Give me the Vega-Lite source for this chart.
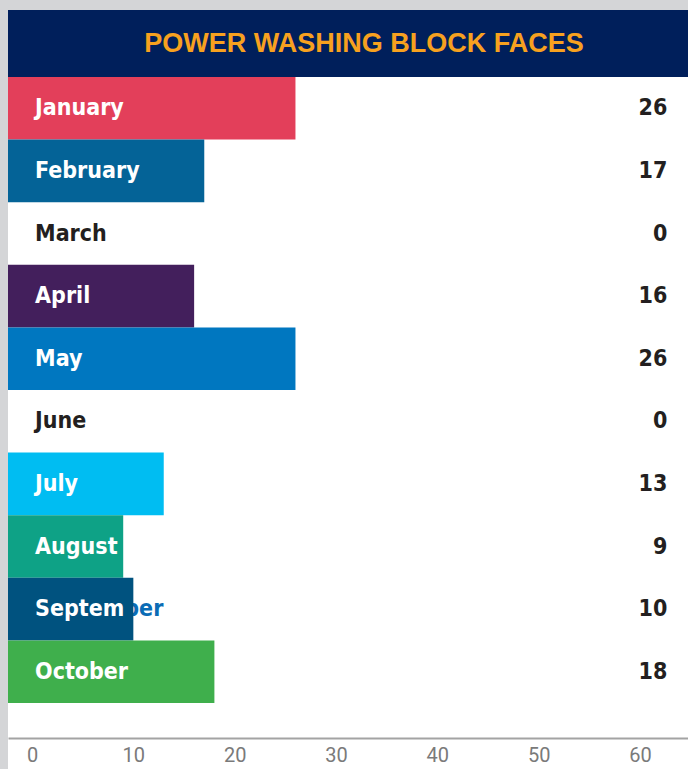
{
  "$schema": "https://vega.github.io/schema/vega-lite/v6.json",
  "background": "#d4d5d7",
  "padding": {"left": 8, "top": 10, "right": 0, "bottom": 0},
  "config": {"view": {"stroke": null}},
  "spacing": 0,
  "resolve": {"scale": {"x": "independent", "y": "independent", "color": "independent"}},
  "vconcat": [
    {
      "name": "head",
      "width": 680,
      "height": 67,
      "view": {"fill": "#001f5b", "stroke": null},
      "data": {"values": [{"title": "POWER WASHING BLOCK FACES"}]},
      "mark": {
        "type": "text",
        "font": "Liberation Sans, Arial, sans-serif",
        "fontWeight": "bold",
        "fontSize": 27,
        "color": "#f7a11f",
        "baseline": "alphabetic",
        "dx": 16,
        "dy": 8
      },
      "encoding": {"text": {"field": "title"}}
    },
    {
      "name": "bars",
      "width": 680,
      "height": 692,
      "view": {"fill": "#ffffff", "stroke": null},
      "data": {
        "values": [
          {"month": "January", "value": 26},
          {"month": "February", "value": 17},
          {"month": "March", "value": 0},
          {"month": "April", "value": 16},
          {"month": "May", "value": 26},
          {"month": "June", "value": 0},
          {"month": "July", "value": 13},
          {"month": "August", "value": 9},
          {"month": "September", "value": 10},
          {"month": "October", "value": 18}
        ]
      },
      "encoding": {
        "y": {
          "field": "month",
          "type": "nominal",
          "scale": {
            "domain": ["January", "February", "March", "April", "May", "June", "July", "August", "September", "October"],
            "paddingInner": 0,
            "paddingOuter": 0,
            "range": [0, 626]
          },
          "axis": null
        }
      },
      "layer": [
        {
          "transform": [{"filter": "datum.month == 'September'"}],
          "mark": {
            "type": "text",
            "font": "DejaVu Sans Condensed, sans-serif",
            "fontWeight": "bold",
            "fontSize": 23,
            "align": "left",
            "baseline": "alphabetic",
            "dy": 7,
            "color": "#0b6cb5"
          },
          "encoding": {
            "x": {"datum": 0.3},
            "text": {"field": "month"}
          }
        },
        {
          "transform": [{"filter": "datum.value > 0"}],
          "mark": {"type": "bar"},
          "encoding": {
            "x": {
              "field": "value",
              "type": "quantitative",
              "scale": {"domain": [-2.37, 64.74], "nice": false, "zero": false},
              "axis": {
                "values": [0, 10, 20, 30, 40, 50, 60],
                "orient": "bottom",
                "offset": -31,
                "title": null,
                "grid": false,
                "ticks": false,
                "domain": true,
                "domainColor": "#a3a3a3",
                "domainWidth": 2,
                "labelFont": "Roboto",
                "labelFontSize": 20,
                "labelColor": "#7a7a7a",
                "labelPadding": 7
              }
            },
            "x2": {"datum": -2.37},
            "color": {
              "field": "month",
              "type": "nominal",
              "scale": {
                "domain": ["January", "February", "March", "April", "May", "June", "July", "August", "September", "October"],
                "range": ["#e33f5a", "#046397", "#ffffff", "#431f5c", "#0077c0", "#ffffff", "#00bdf2", "#0ea286", "#00527f", "#3faf4c"]
              },
              "legend": null
            }
          }
        },
        {
          "mark": {
            "type": "text",
            "font": "DejaVu Sans Condensed, sans-serif",
            "fontWeight": "bold",
            "fontSize": 23,
            "align": "left",
            "baseline": "alphabetic",
            "dy": 7,
            "ellipsis": "\u200b",
            "limit": {"expr": "datum.value > 0 ? scale('bars_x', datum.value) - scale('bars_x', 0.3) + 3 : 0"}
          },
          "encoding": {
            "x": {"datum": 0.3},
            "text": {"field": "month"},
            "color": {
              "condition": {"test": "datum.value > 0", "value": "#ffffff"},
              "value": "#231f20"
            }
          }
        },
        {
          "mark": {
            "type": "text",
            "font": "DejaVu Sans Condensed, sans-serif",
            "fontWeight": "bold",
            "fontSize": 23,
            "align": "right",
            "baseline": "alphabetic",
            "dy": 7,
            "color": "#231f20"
          },
          "encoding": {
            "x": {"datum": 62.7},
            "text": {"field": "value", "type": "quantitative"}
          }
        }
      ]
    }
  ]
}
